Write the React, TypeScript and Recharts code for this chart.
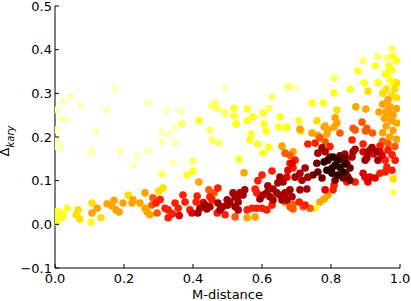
import React from 'react';
import { ScatterChart, Scatter, XAxis, YAxis } from 'recharts';

type Pt = [number, number];

const xTicks = [0, 0.2, 0.4, 0.6, 0.8, 1.0];
const yTicks = [-0.1, 0, 0.1, 0.2, 0.3, 0.4, 0.5];

// colour level (hot colormap value) for each group
const colorLevels = [0.93, 0.85, 0.78, 0.7, 0.61, 0.5, 0.41, 0.32, 0.23, 0.15, 0.05];

const pale: Pt[] = [
  [0.006, 0.262], [0.023, 0.282], [0.044, 0.292], [0.072, 0.271], [0.017, 0.241], [0.032, 0.239],
  [0.006, 0.216], [0.006, 0.193], [0.017, 0.175], [0.006, 0.178], [0.118, 0.214], [0.148, 0.262],
  [0.173, 0.312], [0.108, 0.172], [0.104, 0.161], [0.19, 0.168], [0.27, 0.278], [0.322, 0.26],
  [0.348, 0.223], [0.31, 0.211], [0.33, 0.207], [0.31, 0.189], [0.348, 0.186], [0.27, 0.168],
  [0.24, 0.156], [0.226, 0.136], [0.342, 0.14], [0.365, 0.26], [0.493, 0.312], [0.681, 0.317],
  [0.699, 0.312],
];

const light: Pt[] = [
  [0.455, 0.271], [0.464, 0.278], [0.472, 0.264], [0.493, 0.255], [0.368, 0.23], [0.449, 0.216],
  [0.455, 0.193], [0.475, 0.186], [0.4, 0.145], [0.31, 0.115], [0.629, 0.292], [0.675, 0.315],
  [0.62, 0.266], [0.977, 0.402], [0.936, 0.385], [0.962, 0.381], [0.893, 0.374], [0.809, 0.335],
  [0.98, 0.074],
];

const yellow: Pt[] = [
  [0.519, 0.266], [0.557, 0.264], [0.603, 0.255], [0.652, 0.246], [0.519, 0.248], [0.574, 0.246],
  [0.557, 0.237], [0.417, 0.237], [0.525, 0.23], [0.606, 0.23], [0.649, 0.223], [0.67, 0.221],
  [0.612, 0.214], [0.568, 0.207], [0.565, 0.193], [0.588, 0.184], [0.62, 0.177], [0.603, 0.163],
  [0.533, 0.149], [0.4, 0.122], [0.383, 0.113], [0.98, 0.385], [0.99, 0.374], [0.928, 0.363],
  [0.968, 0.363], [0.878, 0.351], [0.965, 0.347], [0.957, 0.344], [0.977, 0.353], [0.971, 0.331],
  [0.896, 0.324], [0.936, 0.324], [0.977, 0.324], [0.855, 0.31], [0.809, 0.301], [0.745, 0.278],
  [0.777, 0.278], [0.707, 0.237], [0.672, 0.223], [0.006, 0.029], [0.014, 0.026], [0.006, 0.017],
  [0.02, 0.017], [0.009, 0.01], [0.023, 0.022], [0.035, 0.037], [0.003, 0.005], [0.104, 0.005],
  [0.754, 0.037],
];

const yellowOrange: Pt[] = [
  [0.99, 0.324], [0.907, 0.305], [0.817, 0.262], [0.759, 0.237], [0.713, 0.214], [0.98, 0.104],
  [0.067, 0.033], [0.061, 0.022], [0.072, 0.012], [0.107, 0.049], [0.133, 0.015], [0.212, 0.067],
  [0.301, 0.076], [0.313, 0.083], [0.96, 0.31], [0.985, 0.31], [0.95, 0.3], [0.975, 0.295],
  [0.99, 0.29],
];

const orange: Pt[] = [
  [0.872, 0.269], [0.901, 0.264], [0.939, 0.257], [0.812, 0.244], [0.817, 0.232], [0.71, 0.218],
  [0.78, 0.223], [0.809, 0.223], [0.783, 0.225], [0.791, 0.216], [0.788, 0.207], [0.745, 0.209],
  [0.762, 0.204], [0.658, 0.179], [0.69, 0.166], [0.417, 0.097], [0.548, 0.118], [0.122, 0.037],
  [0.107, 0.026], [0.261, 0.072], [0.151, 0.047], [0.171, 0.055], [0.165, 0.042], [0.177, 0.033],
  [0.186, 0.028], [0.197, 0.049], [0.223, 0.049], [0.226, 0.056], [0.246, 0.049], [0.261, 0.037],
  [0.267, 0.029], [0.275, 0.022], [0.791, 0.067], [0.78, 0.058], [0.768, 0.051], [0.557, 0.015],
  [0.58, 0.017], [0.965, 0.285], [0.95, 0.275], [0.97, 0.27], [0.99, 0.265], [0.96, 0.258],
  [0.98, 0.25], [0.955, 0.243], [0.975, 0.238], [0.99, 0.232], [0.96, 0.225], [0.98, 0.215],
  [0.95, 0.21], [0.97, 0.2], [0.99, 0.195], [0.97, 0.255],
];

const orangeRed: Pt[] = [
  [0.89, 0.234], [0.864, 0.22], [0.904, 0.22], [0.87, 0.216], [0.9, 0.214], [0.92, 0.209],
  [0.826, 0.209], [0.768, 0.198], [0.783, 0.189], [0.667, 0.163], [0.681, 0.158], [0.667, 0.051],
  [0.681, 0.04], [0.69, 0.035], [0.719, 0.04], [0.739, 0.037], [0.69, 0.046], [0.522, 0.017],
  [0.284, 0.061], [0.281, 0.044], [0.296, 0.026], [0.446, 0.079], [0.461, 0.072], [0.965, 0.185],
  [0.985, 0.178], [0.95, 0.19],
];

const red: Pt[] = [
  [0.754, 0.186], [0.733, 0.184], [0.797, 0.178], [0.861, 0.193], [0.893, 0.184], [0.942, 0.179],
  [0.965, 0.17], [0.977, 0.159], [0.957, 0.147], [0.986, 0.147], [0.942, 0.117], [0.957, 0.12],
  [0.977, 0.124], [0.962, 0.131], [0.87, 0.097], [0.846, 0.097], [0.809, 0.09], [0.806, 0.079],
  [0.696, 0.147], [0.681, 0.14], [0.69, 0.129], [0.629, 0.122], [0.6, 0.113], [0.588, 0.1],
  [0.58, 0.081], [0.585, 0.072], [0.557, 0.033], [0.585, 0.037], [0.6, 0.037], [0.571, 0.037],
  [0.629, 0.044], [0.614, 0.033], [0.675, 0.074], [0.708, 0.051], [0.725, 0.044], [0.293, 0.049],
  [0.319, 0.037], [0.328, 0.033], [0.328, 0.015], [0.348, 0.049], [0.357, 0.037], [0.371, 0.067],
  [0.377, 0.051], [0.391, 0.033], [0.412, 0.065], [0.409, 0.051], [0.472, 0.083], [0.449, 0.063],
  [0.455, 0.056], [0.493, 0.022], [0.47, 0.026], [0.34, 0.024], [0.305, 0.057],
];

const redDark: Pt[] = [
  [0.893, 0.166], [0.913, 0.17], [0.922, 0.161], [0.942, 0.166], [0.948, 0.158], [0.397, 0.026],
  [0.783, 0.079], [0.893, 0.117], [0.913, 0.108], [0.928, 0.106], [0.907, 0.097], [0.899, 0.108],
  [0.675, 0.124], [0.672, 0.108], [0.687, 0.14], [0.43, 0.05], [0.36, 0.02],
];

const dark: Pt[] = [
  [0.774, 0.175], [0.783, 0.166], [0.762, 0.163], [0.797, 0.154], [0.84, 0.161], [0.832, 0.152],
  [0.861, 0.154], [0.864, 0.166], [0.846, 0.14], [0.725, 0.129], [0.71, 0.117], [0.696, 0.108],
  [0.716, 0.101], [0.733, 0.108], [0.71, 0.079], [0.73, 0.081], [0.687, 0.063], [0.672, 0.056],
  [0.652, 0.108], [0.646, 0.095], [0.661, 0.097], [0.617, 0.088], [0.632, 0.081], [0.643, 0.072],
  [0.652, 0.067], [0.658, 0.056], [0.632, 0.056], [0.623, 0.063], [0.614, 0.072], [0.603, 0.067],
  [0.667, 0.072], [0.681, 0.079], [0.594, 0.058], [0.55, 0.079], [0.545, 0.067], [0.536, 0.072],
  [0.516, 0.072], [0.522, 0.063], [0.531, 0.051], [0.507, 0.051], [0.42, 0.037], [0.414, 0.026],
  [0.435, 0.044], [0.44, 0.035], [0.449, 0.04], [0.472, 0.049], [0.478, 0.033], [0.487, 0.04],
  [0.499, 0.056], [0.501, 0.044], [0.528, 0.061], [0.522, 0.04], [0.531, 0.033], [0.87, 0.172],
  [0.907, 0.166], [0.919, 0.176], [0.933, 0.166], [0.904, 0.152], [0.899, 0.147], [0.936, 0.147],
];

const veryDark: Pt[] = [
  [0.759, 0.14], [0.762, 0.12], [0.748, 0.113], [0.774, 0.106], [0.835, 0.106], [0.812, 0.101],
  [0.849, 0.108], [0.855, 0.129], [0.826, 0.157], [0.841, 0.152], [0.843, 0.117], [0.855, 0.101],
];

const black: Pt[] = [
  [0.78, 0.143], [0.791, 0.147], [0.806, 0.154], [0.82, 0.147], [0.812, 0.136], [0.803, 0.129],
  [0.788, 0.124], [0.803, 0.117], [0.82, 0.113], [0.835, 0.12], [0.826, 0.13], [0.84, 0.138],
];

const groupPoints = [pale, light, yellow, yellowOrange, orange, orangeRed, red, redDark, dark, veryDark, black];

// matplotlib "hot" colormap
const hot = (v: number) => {
  const a = 0.365079, b = 0.746032;
  const r = v < a ? 0.0416 + (1 - 0.0416) * (v / a) : 1;
  const g = v < a ? 0 : v < b ? (v - a) / (b - a) : 1;
  const bl = v < b ? 0 : (v - b) / (1 - b);
  const h = (c: number) => Math.round(Math.max(0, Math.min(1, c)) * 255);
  return `rgb(${h(r)},${h(g)},${h(bl)})`;
};

const W = 411;
const H = 301;
const PLOT_LEFT = 55;
const PLOT_RIGHT = 400;
const PLOT_TOP = 6;
const PLOT_BOTTOM = 268;
const FONT = 'DejaVu Sans, sans-serif';
const TICK_LEN = 4;

const fmt = (v: number) => v.toFixed(1).replace('-', '\u2212');

const BottomTick = (p: any) => (
  <g>
    <line x1={p.x} x2={p.x} y1={PLOT_BOTTOM} y2={PLOT_BOTTOM - TICK_LEN} stroke="#000" strokeWidth={1} />
    <text x={p.x} y={PLOT_BOTTOM + 15} textAnchor="middle" fontSize={13} fontFamily={FONT} fill="#000">
      {fmt(p.payload.value)}
    </text>
  </g>
);

const TopTick = (p: any) => (
  <line x1={p.x} x2={p.x} y1={PLOT_TOP} y2={PLOT_TOP + TICK_LEN} stroke="#000" strokeWidth={1} />
);

const LeftTick = (p: any) => (
  <g>
    <line x1={PLOT_LEFT} x2={PLOT_LEFT + TICK_LEN} y1={p.y} y2={p.y} stroke="#000" strokeWidth={1} />
    <text x={PLOT_LEFT - 3} y={p.y + 4.7} textAnchor="end" fontSize={13} fontFamily={FONT} fill="#000">
      {fmt(p.payload.value)}
    </text>
  </g>
);

const RightTick = (p: any) => (
  <line x1={PLOT_RIGHT} x2={PLOT_RIGHT - TICK_LEN} y1={p.y} y2={p.y} stroke="#000" strokeWidth={1} />
);

const XLabel = () => (
  <text x={(PLOT_LEFT + PLOT_RIGHT) / 2} y={299} textAnchor="middle" fontSize={13} fontFamily={FONT} fill="#000">
    M-distance
  </text>
);

const YLabel = () => (
  <text transform="translate(9,141) rotate(-90)" textAnchor="middle" fontFamily={FONT} fill="#000">
    <tspan fontSize={13}>Δ</tspan>
    <tspan fontSize={10} fontStyle="italic" dy={5}>kary</tspan>
  </text>
);

const makeDot = (fill: string) => (p: any) =>
  p.cx == null ? <g /> : <circle cx={p.cx} cy={p.cy} r={3.8} fill={fill} />;

export default function App() {
  return (
    <div style={{ position: 'absolute', left: 0, top: 0, width: W, height: H, background: '#fff' }}>
      <ScatterChart width={W} height={H} margin={{ top: PLOT_TOP, right: W - PLOT_RIGHT, bottom: 0, left: 0 }}>
        <XAxis
          xAxisId="b"
          dataKey="x"
          type="number"
          domain={[0, 1]}
          ticks={xTicks}
          allowDataOverflow
          height={H - PLOT_BOTTOM}
          tickSize={0}
          tickMargin={0}
          tick={<BottomTick />}
          axisLine={{ stroke: '#000', strokeWidth: 1 }}
          tickLine={false}
          interval={0}
          label={<XLabel />}
        />
        <XAxis
          xAxisId="t"
          orientation="top"
          dataKey="x"
          type="number"
          domain={[0, 1]}
          ticks={xTicks}
          allowDataOverflow
          height={0}
          tickSize={0}
          tickMargin={0}
          tick={<TopTick />}
          axisLine={{ stroke: '#000', strokeWidth: 1 }}
          tickLine={false}
          interval={0}
        />
        <YAxis
          yAxisId="l"
          dataKey="y"
          type="number"
          domain={[-0.1, 0.5]}
          ticks={yTicks}
          allowDataOverflow
          width={PLOT_LEFT}
          tickSize={0}
          tickMargin={0}
          tick={<LeftTick />}
          axisLine={{ stroke: '#000', strokeWidth: 1 }}
          tickLine={false}
          interval={0}
          label={<YLabel />}
        />
        <YAxis
          yAxisId="r"
          orientation="right"
          dataKey="y"
          type="number"
          domain={[-0.1, 0.5]}
          ticks={yTicks}
          allowDataOverflow
          width={0}
          tickSize={0}
          tickMargin={0}
          tick={<RightTick />}
          axisLine={{ stroke: '#000', strokeWidth: 1 }}
          tickLine={false}
          interval={0}
        />
        {groupPoints.map((pts, i) => (
          <Scatter
            key={i}
            xAxisId="b"
            yAxisId="l"
            data={pts.map(([x, y]) => ({ x, y }))}
            fill={hot(colorLevels[i])}
            shape={makeDot(hot(colorLevels[i]))}
            isAnimationActive={false}
          />
        ))}
        {groupPoints.map((pts, i) => (
          <Scatter
            key={'t' + i}
            xAxisId="t"
            yAxisId="r"
            data={[]}
            isAnimationActive={false}
          />
        ))}
      </ScatterChart>
    </div>
  );
}
